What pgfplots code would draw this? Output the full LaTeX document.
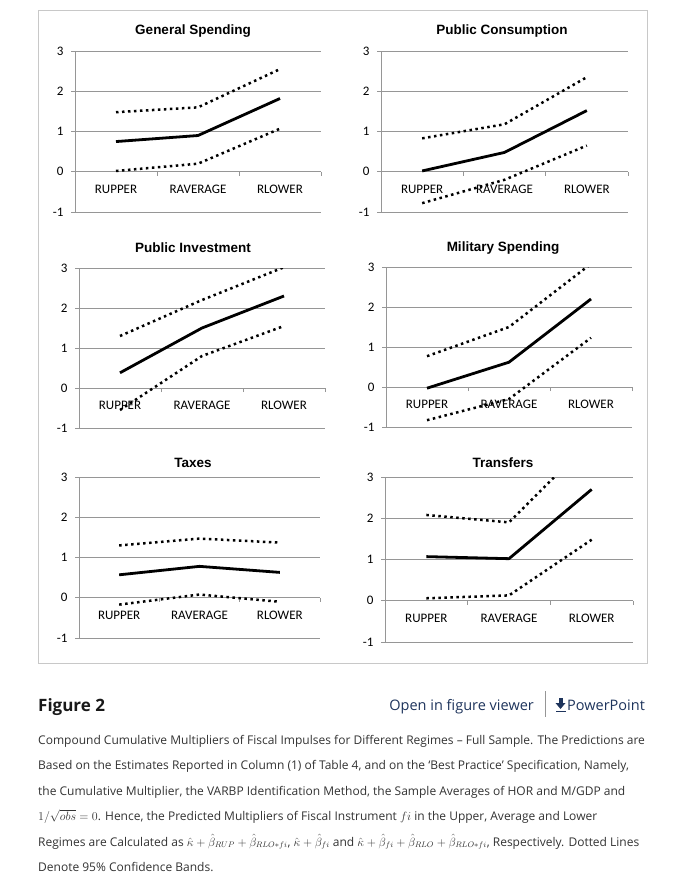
\documentclass[border=0pt]{standalone}
\usepackage{fontspec}
\usepackage{pgfplots}
\pgfplotsset{compat=1.18}
\setmainfont{Open Sans}
\newfontfamily\carlito{Carlito}
\newfontfamily\arial{Liberation Sans}

\definecolor{gridgray}{RGB}{150,150,150}
\definecolor{framegray}{RGB}{200,200,200}
\definecolor{linkblue}{RGB}{30,52,92}
\definecolor{captext}{RGB}{51,51,51}

\pgfplotsset{
  panel/.style={
    scale only axis,
    anchor=south west,
    xmin=0, xmax=3, ymin=-1, ymax=3,
    axis x line=middle, axis y line=left,
    axis line style={draw=gridgray, line width=0.8pt, -},
    hide obscured x ticks=false, hide obscured y ticks=false,
    ytick={-1,0,1,2,3},
    yticklabels={-1,0,1,2,3},
    ymajorgrids,
    grid style={draw=gridgray, line width=0.8pt},
    xtick={1,2,3}, xticklabels={},
    extra x ticks={0.5,1.5,2.5},
    extra x tick labels={RUPPER,RAVERAGE,RLOWER},
    extra x tick style={major tick length=0pt,
      xticklabel style={yshift=-10pt}},
    tick style={draw=gridgray, line width=0.8pt},
    major tick length=4pt,
    tick align=outside,
    ticklabel style={font=\carlito\fontsize{13}{15}\selectfont, text=black},
    yticklabel style={xshift=-4pt},
    clip=true,
  },
  mainline/.style={black, line width=2.8pt, line join=round},
  band/.style={black, line width=2.5pt, line cap=butt, dash pattern=on 2.5pt off 3.5pt},
}

\newcommand{\paneltitle}[3]{\node[font=\arial\bfseries\fontsize{13.5}{15}\selectfont] at (#1pt,-#2pt) {#3};}

\begin{document}
\begin{tikzpicture}
\fill[white] (0,0) rectangle (679pt,-890pt);
\draw[framegray, line width=1pt] (38.5pt,-10.5pt) rectangle (647.5pt,-663.5pt);

% General Spending
\begin{axis}[panel, at={(75pt,-212pt)}, width=246pt, height=161pt]
\addplot[mainline] coordinates {(0.5,0.75)(1.5,0.90)(2.5,1.82)};
\addplot[band] coordinates {(0.5,1.48)(1.5,1.60)(2.5,2.55)};
\addplot[band] coordinates {(0.5,0.02)(1.5,0.20)(2.5,1.07)};
\end{axis}
\paneltitle{193}{31}{General Spending}

% Public Consumption
\begin{axis}[panel, at={(381pt,-212pt)}, width=247pt, height=161pt]
\addplot[mainline] coordinates {(0.5,0.02)(1.5,0.48)(2.5,1.52)};
\addplot[band] coordinates {(0.5,0.83)(1.5,1.18)(2.5,2.35)};
\addplot[band] coordinates {(0.5,-0.78)(1.5,-0.20)(2.5,0.65)};
\end{axis}
\paneltitle{502}{31}{Public Consumption}

% Public Investment
\begin{axis}[panel, at={(79pt,-428pt)}, width=246pt, height=160pt]
\addplot[mainline] coordinates {(0.5,0.38)(1.5,1.50)(2.5,2.30)};
\addplot[band] coordinates {(0.5,1.30)(1.5,2.20)(2.5,3.02)};
\addplot[band] coordinates {(0.5,-0.55)(1.5,0.80)(2.5,1.55)};
\end{axis}
\paneltitle{193}{248}{Public Investment}

% Military Spending
\begin{axis}[panel, at={(386pt,-427pt)}, width=246pt, height=160pt]
\addplot[mainline] coordinates {(0.5,-0.03)(1.5,0.62)(2.5,2.20)};
\addplot[band] coordinates {(0.5,0.77)(1.5,1.50)(2.5,3.08)};
\addplot[band] coordinates {(0.5,-0.83)(1.5,-0.30)(2.5,1.23)};
\end{axis}
\paneltitle{503}{248}{Military Spending}

% Taxes
\begin{axis}[panel, at={(79pt,-638pt)}, width=241pt, height=161pt]
\addplot[mainline] coordinates {(0.5,0.57)(1.5,0.78)(2.5,0.63)};
\addplot[band] coordinates {(0.5,1.30)(1.5,1.47)(2.5,1.37)};
\addplot[band] coordinates {(0.5,-0.17)(1.5,0.08)(2.5,-0.10)};
\end{axis}
\paneltitle{193}{463}{Taxes}

% Transfers
\begin{axis}[panel, at={(385pt,-642pt)}, width=248pt, height=165pt]
\addplot[mainline] coordinates {(0.5,1.07)(1.5,1.02)(2.5,2.70)};
\addplot[band] coordinates {(0.5,2.08)(1.5,1.90)(2.5,3.90)};
\addplot[band] coordinates {(0.5,0.06)(1.5,0.13)(2.5,1.48)};
\end{axis}
\paneltitle{503}{463}{Transfers}

% caption block
\node[anchor=base west, inner sep=0pt, font=\bfseries\fontsize{17}{20}\selectfont, text=black!90] at (38pt,-711pt) {Figure 2};
\node[anchor=base east, inner sep=0pt, font=\fontsize{14.5}{18}\selectfont, text=linkblue] at (534pt,-710pt) {Open in figure viewer};
\draw[gridgray, line width=0.8pt] (545pt,-691pt) -- (545pt,-717pt);
\fill[linkblue] (558.5pt,-698pt) rectangle (562.5pt,-703pt);
\fill[linkblue] (555.5pt,-703pt) -- (565.5pt,-703pt) -- (560.5pt,-709pt) -- cycle;
\fill[linkblue] (555.5pt,-710.5pt) rectangle (565.5pt,-712pt);
\node[anchor=base west, inner sep=0pt, font=\fontsize{14.5}{18}\selectfont, text=linkblue] at (567pt,-710pt) {PowerPoint};

\begin{scope}[every node/.style={anchor=base west, inner sep=0pt, font=\fontsize{12}{14}\selectfont, text=captext}]
\node at (38pt,-744pt) {Compound Cumulative Multipliers of Fiscal Impulses for Different Regimes – Full Sample. The Predictions are};
\node at (38pt,-769.5pt) {Based on the Estimates Reported in Column (1) of Table 4, and on the ‘Best Practice’ Specification, Namely,};
\node at (38pt,-795pt) {the Cumulative Multiplier, the VARBP Identification Method, the Sample Averages of HOR and M/GDP and};
\node at (38pt,-820.5pt) {$1/\sqrt{obs}=0$. Hence, the Predicted Multipliers of Fiscal Instrument $fi$ in the Upper, Average and Lower};
\node at (38pt,-846pt) {Regimes are Calculated as $\hat{\kappa}+\hat{\beta}_{RUP}+\hat{\beta}_{RLO*fi}$, $\hat{\kappa}+\hat{\beta}_{fi}$ and $\hat{\kappa}+\hat{\beta}_{fi}+\hat{\beta}_{RLO}+\hat{\beta}_{RLO*fi}$, Respectively. Dotted Lines};
\node at (38pt,-871.5pt) {Denote 95\% Confidence Bands.};
\end{scope}
\end{tikzpicture}
\end{document}
